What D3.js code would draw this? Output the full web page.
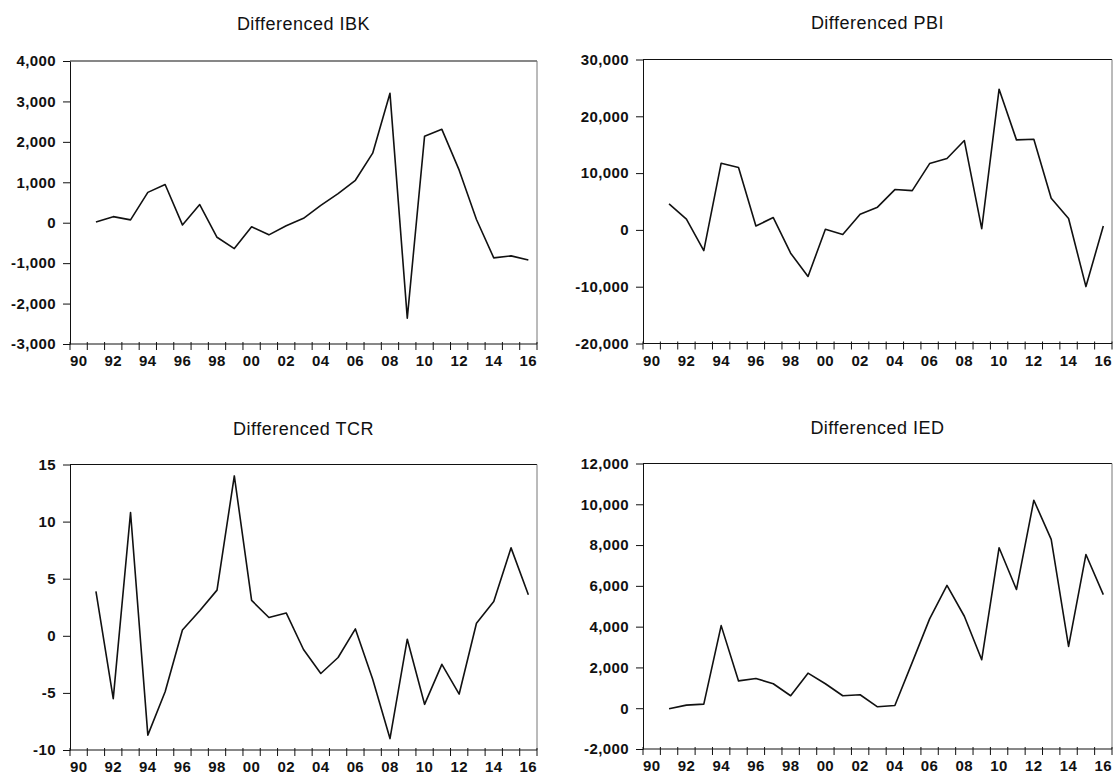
<!DOCTYPE html>
<html>
<head>
<meta charset="utf-8">
<script src="https://cdn.jsdelivr.net/npm/d3@7"></script>
<style>
    body { margin: 0; background: #fff; }
    svg { display: block; }
    .title { font-family: "Liberation Sans", Arial, sans-serif; font-size: 18px; fill: #111; letter-spacing: 0.5px; }
    .axis text { font-family: "Liberation Sans", Arial, sans-serif; font-size: 15px; font-weight: bold; fill: #111; letter-spacing: 0.4px; }
    .axis path, .axis line { stroke: #111; }
</style>
</head>
<body>
<div id="chart"></div>
<script>
// years 1990 - 2016 (first difference starts at 1991)
var years = d3.range(1990, 2017);
var yearLabels = ["90","92","94","96","98","00","02","04","06","08","10","12","14","16"];

var ibk = [null, 20, 150, 70, 750, 945, -55, 450, -360, -640, -100, -300, -75, 110, 430, 720, 1050, 1720, 3200, -2360, 2140, 2310, 1300, 80, -870, -820, -920];
var pbi = [null, 4580, 1880, -3640, 11740, 10970, 700, 2170, -4100, -8200, 100, -820, 2760, 4000, 7100, 6920, 11680, 12560, 15730, 230, 24770, 15850, 15960, 5580, 2000, -9980, 700];
var tcr = [null, 3.9, -5.5, 10.8, -8.7, -4.9, 0.5, 2.2, 4.0, 14.0, 3.1, 1.6, 2.0, -1.2, -3.3, -1.9, 0.6, -3.8, -9.0, -0.3, -6.0, -2.5, -5.1, 1.1, 3.0, 7.7, 3.6];
var ied = [null, -30, 150, 200, 4050, 1340, 1460, 1200, 610, 1720, 1200, 610, 660, 70, 130, 2250, 4380, 6020, 4510, 2380, 7870, 5820, 10200, 8280, 3030, 7540, 5570];

var ibkTicks = [-3000, -2000, -1000, 0, 1000, 2000, 3000, 4000];
var pbiTicks = [-20000, -10000, 0, 10000, 20000, 30000];
var tcrTicks = [-10, -5, 0, 5, 10, 15];
var iedTicks = [-2000, 0, 2000, 4000, 6000, 8000, 10000, 12000];

var titles = ["Differenced IBK", "Differenced PBI", "Differenced TCR", "Differenced IED"];

// plain hyphen for negatives, like the original
var fmt = d3.formatLocale({decimal: ".", thousands: ",", grouping: [3], currency: ["", ""], minus: "-"}).format(",");

var svg = d3.select("#chart").append("svg")
    .attr("width", 1114)
    .attr("height", 774);

function drawPanel(box, title, values, ticks) {
    var g = svg.append("g");

    var x = d3.scaleBand().domain(years).range([box.left, box.right]).padding(0);
    var y = d3.scaleLinear().domain([ticks[0], ticks[ticks.length - 1]]).range([box.bottom, box.top]);

    // title
    g.append("text").attr("class", "title")
        .attr("x", (box.left + box.right) / 2)
        .attr("y", box.titleY)
        .attr("text-anchor", "middle")
        .text(title);

    // top / right frame
    g.append("line").attr("x1", box.left).attr("x2", box.right).attr("y1", box.top).attr("y2", box.top)
        .attr("stroke", "#111").attr("stroke-width", 1.2);
    g.append("line").attr("x1", box.right).attr("x2", box.right).attr("y1", box.top).attr("y2", box.bottom)
        .attr("stroke", "#777").attr("stroke-width", 1);

    // y axis
    g.append("g").attr("class", "axis")
        .attr("transform", "translate(" + box.left + ",0)")
        .call(d3.axisLeft(y).tickValues(ticks).tickSize(7).tickPadding(7).tickSizeOuter(0).tickFormat(fmt));

    // x axis: ticks at year boundaries, labels at year centres
    var xAxis = g.append("g").attr("class", "axis")
        .attr("transform", "translate(0," + box.bottom + ")");
    xAxis.append("line").attr("x1", box.left).attr("x2", box.right).attr("y1", 0).attr("y2", 0);
    xAxis.selectAll("line.tk").data(years.concat([2017])).enter().append("line").attr("class", "tk")
        .attr("x1", function (d) { return d == 2017 ? box.right : x(d); })
        .attr("x2", function (d) { return d == 2017 ? box.right : x(d); })
        .attr("y1", -2).attr("y2", 6);
    xAxis.selectAll("text").data(years.filter(function (d) { return d % 2 == 0; })).enter().append("text")
        .attr("x", function (d) { return x(d) + x.bandwidth() / 2; })
        .attr("y", 22)
        .attr("text-anchor", "middle")
        .text(function (d, i) { return yearLabels[i]; });

    // series line
    var line = d3.line()
        .defined(function (d) { return d.v != null; })
        .x(function (d) { return x(d.year) + x.bandwidth() / 2; })
        .y(function (d) { return y(d.v); });

    g.append("path")
        .datum(years.map(function (yr, i) { return {year: yr, v: values[i]}; }))
        .attr("d", line)
        .attr("fill", "none")
        .attr("stroke", "#111")
        .attr("stroke-width", 1.6)
        .attr("stroke-linejoin", "round");
}

drawPanel({left: 70, right: 537, top: 61, bottom: 344, titleY: 30}, titles[0], ibk, ibkTicks);
drawPanel({left: 643, right: 1112, top: 59.5, bottom: 343.5, titleY: 29}, titles[1], pbi, pbiTicks);
drawPanel({left: 70, right: 537, top: 464.5, bottom: 750, titleY: 435}, titles[2], tcr, tcrTicks);
drawPanel({left: 643, right: 1112, top: 463.5, bottom: 749, titleY: 434}, titles[3], ied, iedTicks);
</script>
</body>
</html>
